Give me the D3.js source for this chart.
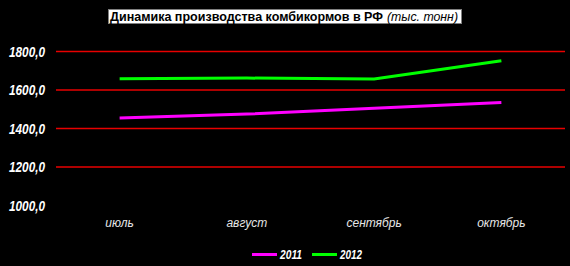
<!DOCTYPE html>
<meta charset="utf-8">
<head>
  <script src="https://d3js.org/d3.v7.min.js"></script>
</head>
<body style="margin:0;background:#000">
<div id="chart"></div>
<script>
"use strict"

var meses = ["июль", "август", "сентябрь", "октябрь"];
var anos = ["2011", "2012"];
var valores2011 = [1455, 1475, 1505, 1535];
var valores2012 = [1658, 1662, 1657, 1752];
var ticksY = [1000, 1200, 1400, 1600, 1800];
var cores = ["#ff00ff", "#00ff00"];

var largura = 570, altura = 266;
var margin = {top: 51.5, left: 56, right: 5, bottom: 60.5};
var fonte = "'Liberation Sans', Arial, sans-serif";

var svg = d3.select("#chart").append("svg")
  .attr("width", largura).attr("height", altura)
  .style("display", "block")
  .style("font-family", fonte);

svg.append("rect").attr("width", largura).attr("height", altura).attr("fill", "#000");

var x = d3.scaleBand().domain(meses).range([margin.left, largura - margin.right]);
var y = d3.scaleLinear().domain([1000, 1800]).range([altura - margin.bottom, margin.top]);

// linhas de grade
svg.selectAll("line.grid")
  .data(ticksY.filter(function(d) { return d > 1000; }))
  .enter().append("line")
  .attr("x1", margin.left).attr("x2", largura - margin.right)
  .attr("y1", function(d) { return y(d); }).attr("y2", function(d) { return y(d); })
  .attr("stroke", "#e80000").attr("stroke-width", 1.3);

// rótulos do eixo y
svg.selectAll("text.ylab")
  .data(ticksY)
  .enter().append("text")
  .attr("x", 9).attr("y", function(d) { return y(d) + 5; })
  .attr("textLength", 36).attr("lengthAdjust", "spacingAndGlyphs")
  .attr("font-size", 14).attr("font-weight", "bold").attr("font-style", "italic")
  .attr("fill", "#fff")
  .text(function(d) { return d.toFixed(1).replace(".", ","); });

// rótulos do eixo x
svg.selectAll("text.xlab")
  .data(meses)
  .enter().append("text")
  .attr("x", function(d) { return x(d) + x.bandwidth() / 2; })
  .attr("y", 227)
  .attr("text-anchor", "middle")
  .attr("font-size", 12).attr("font-style", "italic")
  .attr("fill", "#e6e6e6")
  .text(function(d) { return d; });

// séries
var linha = d3.line()
  .x(function(d, i) { return x(meses[i]) + x.bandwidth() / 2; })
  .y(function(d) { return y(d); });

[valores2011, valores2012].forEach(function(serie, k) {
  svg.append("path")
    .attr("d", linha(serie))
    .attr("fill", "none")
    .attr("stroke", cores[k])
    .attr("stroke-width", 3);
});

// título
svg.append("rect")
  .attr("x", 108.5).attr("y", 9.5).attr("width", 353).attr("height", 14)
  .attr("fill", "#fff").attr("stroke", "#808080");
svg.append("text").attr("x", 110).attr("y", 21)
  .attr("font-size", 12.5).attr("font-weight", "bold").attr("fill", "#000")
  .attr("textLength", 273).attr("lengthAdjust", "spacingAndGlyphs")
  .text("Динамика производства комбикормов в РФ");
svg.append("text").attr("x", 387).attr("y", 21)
  .attr("font-size", 12.5).attr("font-style", "italic").attr("fill", "#000")
  .attr("textLength", 71).attr("lengthAdjust", "spacingAndGlyphs")
  .text("(тыс. тонн)");

// legenda
var legX = [252, 312];
anos.forEach(function(a, k) {
  svg.append("line")
    .attr("x1", legX[k]).attr("x2", legX[k] + 25)
    .attr("y1", 254.5).attr("y2", 254.5)
    .attr("stroke", cores[k]).attr("stroke-width", 3);
  svg.append("text")
    .attr("x", legX[k] + 28).attr("y", 259)
    .attr("font-size", 12.5).attr("font-weight", "bold").attr("font-style", "italic")
    .attr("fill", "#fff")
    .attr("textLength", 22).attr("lengthAdjust", "spacingAndGlyphs")
    .text(a);
});
</script>
</body>
